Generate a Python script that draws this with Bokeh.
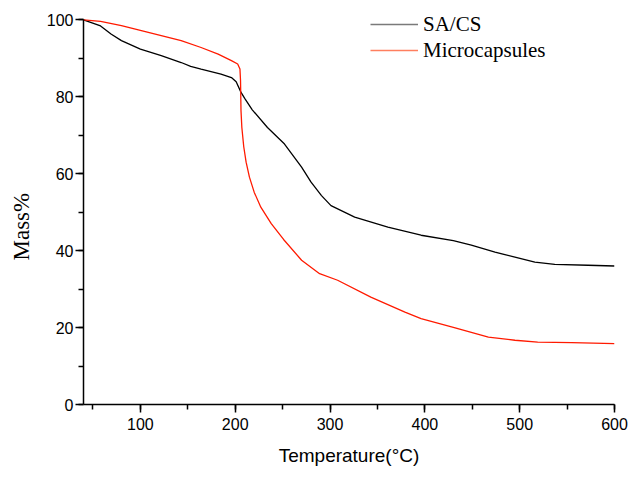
from bokeh.plotting import figure
from bokeh.models import (Range1d, SingleIntervalTicker, Legend, LegendItem)
from bokeh.embed import file_html
from bokeh.resources import INLINE

# ---- data ----
sacs_T = [40, 58, 69, 80, 100, 122, 143, 153, 164, 185, 196, 201, 206, 210, 218,
          234, 252, 270, 280, 291, 301, 326, 361, 396, 430, 449, 474, 495, 516,
          537, 572, 600]
sacs_M = [100, 98.4, 96.3, 94.6, 92.4, 90.7, 88.9, 87.9, 87.2, 85.9, 85.0, 83.9,
          81.2, 79.6, 76.6, 72.0, 67.7, 61.7, 57.8, 54.3, 51.7, 48.7, 46.1, 44.0,
          42.6, 41.4, 39.6, 38.3, 37.0, 36.4, 36.2, 36.0]

micro_T = [40, 58, 80, 101, 122, 143, 164, 182, 196, 202.6, 205, 205.6, 206.1,
           207, 209, 211.5, 215, 220, 227, 238, 251, 270, 289, 308, 343, 379, 396,
           431, 467, 495, 519, 555, 600]
micro_M = [100, 99.6, 98.5, 97.2, 95.9, 94.6, 92.8, 91.1, 89.4, 88.5, 87.2, 84.2,
           76.4, 72.0, 67.0, 63.0, 59.1, 55.2, 51.3, 47.0, 42.9, 37.5, 34.0, 32.3,
           27.9, 24.0, 22.3, 20.0, 17.5, 16.7, 16.2, 16.1, 15.8]

series_names = ["SA/CS", "Microcapsules"]
x_label = "Temperature(°C)"
y_label = "Mass%"

# y range runs a little past 100 so the legend (which sits above the 100 level) is not clipped
p = figure(width=632, height=472, output_backend="svg", toolbar_location=None,
           x_range=Range1d(40, 600), y_range=Range1d(0, 104.5),
           min_border_left=83, min_border_top=2, min_border_right=18,
           min_border_bottom=68, title_location="left")
p.outline_line_color = None
p.xgrid.visible = False
p.ygrid.visible = False
p.background_fill_color = "white"
p.border_fill_color = "white"

p.line(sacs_T, sacs_M, line_color="black", line_width=1.3)
p.line(micro_T, micro_M, line_color="#ff1a00", line_width=1.3)

# legend proxies (single point -> no visible stroke in the plot; legend strokes are lighter)
r1 = p.line(sacs_T[:1], sacs_M[:1], line_color="#7a7a7a", line_width=1.3)
r2 = p.line(micro_T[:1], micro_M[:1], line_color="#ff7f5f", line_width=1.3)
legend = Legend(items=[LegendItem(label=series_names[0], renderers=[r1]),
                       LegendItem(label=series_names[1], renderers=[r2])],
                location=(287, 341), padding=0, spacing=0, margin=0,
                glyph_width=48, glyph_height=26, label_height=26,
                label_standoff=5, border_line_color=None,
                background_fill_alpha=0,
                label_text_font="Liberation Serif", label_text_font_size="21px",
                label_text_color="black")
p.add_layout(legend)

# axes
xa = p.xaxis[0]
xa.ticker = SingleIntervalTicker(interval=100, num_minor_ticks=2)
ya = p.yaxis[0]
ya.ticker = SingleIntervalTicker(interval=20, num_minor_ticks=2)
ya.bounds = (0, 100)
for ax in (xa, ya):
    ax.axis_line_color = "black"
    ax.axis_line_width = 1.5
    ax.major_tick_line_color = "black"
    ax.minor_tick_line_color = "black"
    ax.major_tick_line_width = 1.5
    ax.minor_tick_line_width = 1.5
    ax.major_tick_in = 0
    ax.major_tick_out = 8
    ax.minor_tick_in = 0
    ax.minor_tick_out = 5
    ax.major_label_text_font = "Liberation Sans"
    ax.major_label_text_font_size = "16px"
    ax.major_label_text_color = "black"
xa.major_label_standoff = 5
ya.major_label_standoff = 2

xa.axis_label = x_label
xa.axis_label_text_font = "Liberation Sans"
xa.axis_label_text_font_size = "19px"
xa.axis_label_text_font_style = "normal"
xa.axis_label_text_color = "black"
xa.axis_label_standoff = 12

# y-axis title: a left-side title, offset so it sits a bit below mid-axis as in the reference
p.title.text = y_label
p.title.align = "left"
p.title.offset = 144
p.title.vertical_align = "top"
p.title.standoff = 16
p.title.text_font = "Liberation Serif"
p.title.text_font_size = "23px"
p.title.text_font_style = "normal"
p.title.text_color = "black"

open("out.html", "w").write(file_html(p, INLINE))
